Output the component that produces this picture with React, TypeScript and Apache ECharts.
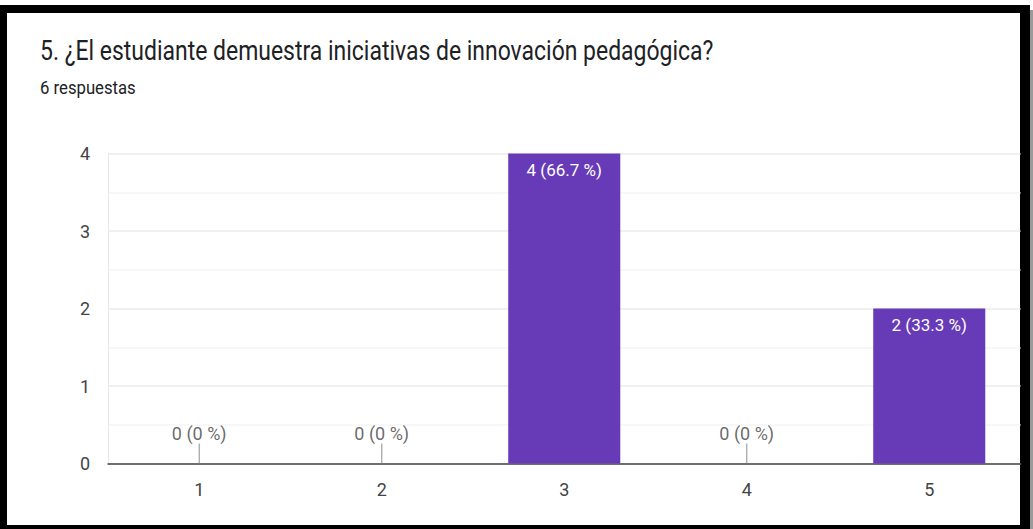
import React, { useEffect, useRef } from "react";
import * as echarts from "echarts";

const titleText = "5. ¿El estudiante demuestra iniciativas de innovación pedagógica?";
const subtitleText = "6 respuestas";
const categories = ["1", "2", "3", "4", "5"];
const counts = [0, 0, 4, 0, 2];
const percents = ["0", "0", "66.7", "0", "33.3"];
const yTicks = [0, 1, 2, 3, 4];

export default function App() {
  const ref = useRef<HTMLDivElement>(null);
  useEffect(() => {
    if (!ref.current) return;
    const chart = echarts.init(ref.current, undefined, { renderer: "svg" });
    const font = "Roboto, 'Noto Sans', sans-serif";
    const zeroPoints = counts
      .map((c, i) => (c === 0 ? [i, 0] : null))
      .filter((d) => d !== null);
    chart.setOption({
      animation: false,
      backgroundColor: "transparent",
      textStyle: { fontFamily: font },
      graphic: [
        {
          type: "text",
          x: 40,
          y: 50,
          scaleX: 0.82,
          style: {
            text: titleText,
            fontSize: 28,
            fontFamily: font,
            fill: "#202124",
            verticalAlign: "middle",
          },
        },
        {
          type: "text",
          x: 40,
          y: 87,
          scaleX: 0.88,
          style: {
            text: subtitleText,
            fontSize: 19,
            fontFamily: font,
            fill: "#202124",
            verticalAlign: "middle",
          },
        },
      ],
      grid: { left: 108, top: 153.5, width: 912.5, height: 310, containLabel: false },
      xAxis: {
        type: "category",
        data: categories,
        axisLine: { lineStyle: { color: "#444", width: 1.5 } },
        axisTick: { show: false },
        axisLabel: { fontSize: 18, color: "#444", margin: 17, fontFamily: font },
        splitLine: { show: false },
      },
      yAxis: {
        type: "value",
        min: yTicks[0],
        max: yTicks[yTicks.length - 1],
        interval: 1,
        axisLine: { show: true, lineStyle: { color: "#e8e8e8", width: 1 } },
        axisTick: { show: false },
        axisLabel: { fontSize: 18, color: "#444", margin: 18, fontFamily: font },
        splitLine: { show: true, lineStyle: { color: "#ebebeb", width: 1.5 } },
        minorTick: { show: false, splitNumber: 2 },
        minorSplitLine: { show: true, lineStyle: { color: "#f4f4f4", width: 1.5 } },
      },
      series: [
        {
          type: "bar",
          data: counts,
          barWidth: "61.4%",
          itemStyle: { color: "#673ab7" },
          label: {
            show: true,
            position: "insideTop",
            distance: 8,
            color: "#ffffff",
            fontSize: 17,
            fontFamily: font,
            formatter: (p: any) =>
              p.value > 0 ? `${p.value} (${percents[p.dataIndex]} %)` : "",
          },
        },
        {
          type: "scatter",
          data: zeroPoints,
          symbol: "rect",
          symbolSize: [1.2, 20],
          symbolOffset: [0, -10],
          itemStyle: { color: "#888" },
          label: {
            show: true,
            position: "top",
            distance: 1,
            color: "#444",
            fontSize: 18,
            fontFamily: font,
            formatter: (p: any) => `0 (${percents[p.data[0]]} %)`,
          },
          z: 3,
        },
      ],
    });
    return () => chart.dispose();
  }, []);
  return (
    <div style={{ position: "absolute", left: 0, top: 0, width: 1033, height: 529, background: "#fff", overflow: "hidden" }}>
      <div style={{ position: "absolute", left: 1030, top: 10, width: 3, height: 519, background: "#9a9a9a" }} />
      <div style={{ position: "absolute", left: 0, top: 5, width: 1030, height: 524, background: "#000" }} />
      <div style={{ position: "absolute", left: 7, top: 13, width: 1013, height: 512, background: "#fff" }} />
      <div ref={ref} style={{ position: "absolute", left: 0, top: 0, width: 1033, height: 529 }} />
    </div>
  );
}
